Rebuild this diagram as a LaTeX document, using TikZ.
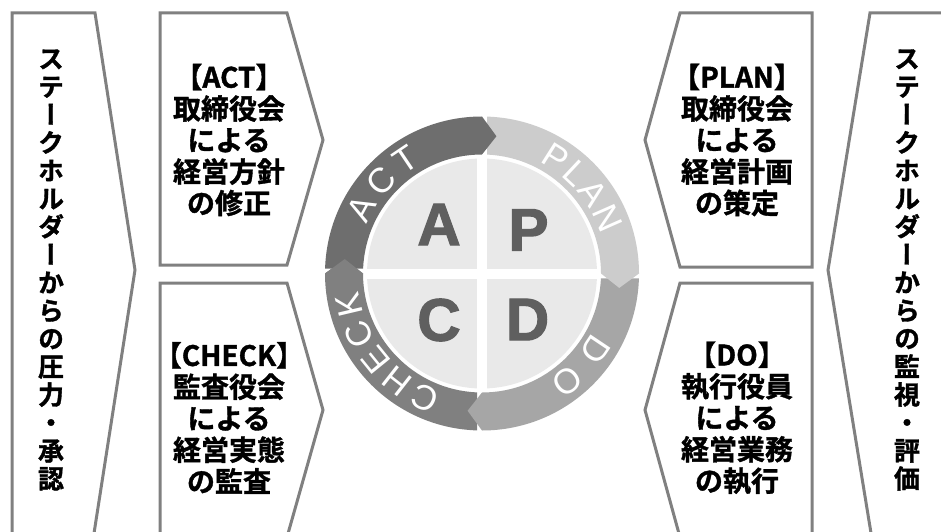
\documentclass[tikz,border=0pt]{standalone}
\usepackage{fontspec}
\setmainfont{Liberation Sans}
\newfontfamily\jpfont{Noto Sans CJK JP Bold}[FakeBold=1.3]
\newfontfamily\jpvfont{Noto Sans CJK JP Bold}[RawFeature=+vert, FakeBold=1.3]
\newfontfamily\heavysans{Liberation Sans Bold}[FakeBold=2]
\usetikzlibrary{decorations.text}
\definecolor{framec}{HTML}{808080}
\definecolor{actc}{HTML}{6E6E6E}
\definecolor{planc}{HTML}{CCCCCC}
\definecolor{doc}{HTML}{A6A6A6}
\definecolor{chkc}{HTML}{808080}
\definecolor{diskc}{HTML}{E9E9E9}
\definecolor{letc}{HTML}{5F5F5F}
\newcommand\ringfont{\fontsize{35}{35}\selectfont}
\newcommand\ringseg[3]{%
  \fill[#3] ({#1-asin(5/157)}:157pt) arc[start angle={#1-asin(5/157)}, end angle=#2, radius=157pt]
    -- ({#2-6}:138pt) -- (#2:119pt)
    arc[start angle=#2, end angle={#1-asin(5/119)}, radius=119pt] -- cycle;}
\tikzset{
  frameline/.style={draw=framec, line width=3pt, line join=miter},
  boxtext/.style={align=center, font=\jpfont\fontsize{28}{31.5}\selectfont, inner sep=0pt},
  sidetext/.style={align=center, font=\jpvfont\fontsize{26}{28}\selectfont, inner sep=0pt},
  bigletter/.style={font=\heavysans\fontsize{60}{60}\selectfont, text=letc, inner sep=0pt},
  ringtext/.style={decorate, decoration={text along path, text={|\ringfont|#1}, text align={fit to path}, text color=white}}
}
\begin{document}
\begin{tikzpicture}[x=1pt, y=1pt]
\useasboundingbox (0,0) rectangle (941,531);
\fill[white] (0,0) rectangle (941,531);
\clip (0,0) rectangle (941,531);

% side panels
\draw[frameline] (12,-10) -- (12,518) -- (95,518) -- (135,261) -- (92.8,-10);
\draw[frameline] (950,518) -- (870,518) -- (828,261) -- (872.3,-10);
\node[sidetext] (lefttxt) at (51,261) {ス\\テ\\ー\\ク\\ホ\\ル\\ダ\\ー\\か\\ら\\の\\圧\\力\\・\\承\\認};
\node[sidetext] (righttxt) at (907,261) {ス\\テ\\ー\\ク\\ホ\\ル\\ダ\\ー\\か\\ら\\の\\監\\視\\・\\評\\価};

% boxes
\draw[frameline] (160,518) -- (287,518) -- (323,391) -- (287,266) -- (160,266) -- cycle;
\draw[frameline] (160,-10) -- (160,248) -- (287,248) -- (323,121) -- (285.9,-10);
\draw[frameline] (680,518) -- (812,518) -- (812,264) -- (680,264) -- (645,391) -- cycle;
\draw[frameline] (681,-10) -- (645,121) -- (680,248) -- (812,248) -- (812,-10);

\node[boxtext] (acttxt) at (229,391) {【ACT】\\取締役会\\による\\経営方針\\の修正};
\node[boxtext] (plantxt) at (737,391) {【PLAN】\\取締役会\\による\\経営計画\\の策定};
\node[boxtext] (chktxt) at (229,113) {【CHECK】\\監査役会\\による\\経営実態\\の監査};
\node[boxtext] (dotxt) at (737,113) {【DO】\\執行役員\\による\\経営業務\\の執行};

% PDCA circle
\begin{scope}[shift={(482,257.5)}]
  \ringseg{-90}{-180}{chkc}
  \ringseg{0}{-90}{doc}
  \ringseg{90}{0}{planc}
  \ringseg{180}{90}{actc}
  \fill[chkc] (180:157pt) -- (174:138pt) -- (180:119pt) -- cycle;
  \fill[diskc] (0,0) circle[radius=115pt];
  \fill[white] (-5,-116) rectangle (5,116);
  \fill[white] (-116,-5) rectangle (116,5);
  \path[ringtext=ACT] (157:125pt) arc[start angle=157, end angle=119, radius=125pt];
  \path[ringtext=PLAN] (63:125pt) arc[start angle=63, end angle=18, radius=125pt];
  \path[ringtext=DO] (-28:125pt) arc[start angle=-28, end angle=-58, radius=125pt];
  \path[ringtext=CHECK] (251:125pt) arc[start angle=251, end angle=188, radius=125pt];
  \node[bigletter] (la) at (-43,49) {A};
  \node[bigletter] (lp) at (46.5,43.5) {P};
  \node[bigletter] (lc) at (-43,-46.5) {C};
  \node[bigletter] (ld) at (45.5,-46) {D};
\end{scope}
\end{tikzpicture}
\end{document}
